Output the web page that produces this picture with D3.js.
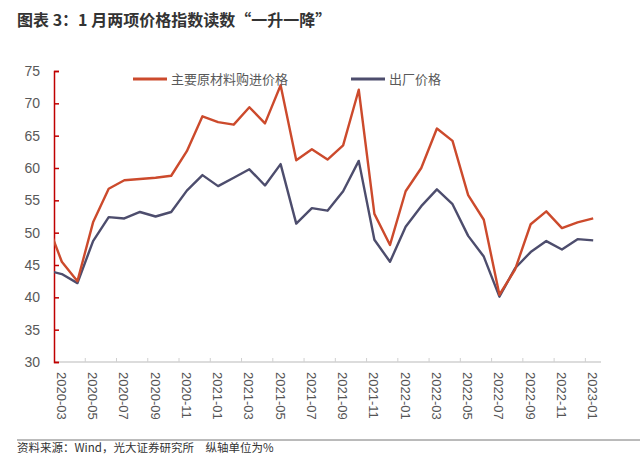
<!DOCTYPE html>
<html>
<head>
<meta charset="utf-8">
<script src="https://cdn.jsdelivr.net/npm/d3@7"></script>
<style>
  body { margin: 0; background: #fff; }
  text { font-family: "Noto Sans CJK SC", "Noto Sans", sans-serif; }
  .num { font-family: "Liberation Sans", Arial, sans-serif; }
</style>
</head>
<body>
<div id="chart"></div>
<script>
// months on the category axis (2020-02 sits just left of the axis and is clipped)
const months = ["2020-02","2020-03","2020-04","2020-05","2020-06","2020-07","2020-08","2020-09","2020-10","2020-11","2020-12",
  "2021-01","2021-02","2021-03","2021-04","2021-05","2021-06","2021-07","2021-08","2021-09","2021-10","2021-11","2021-12",
  "2022-01","2022-02","2022-03","2022-04","2022-05","2022-06","2022-07","2022-08","2022-09","2022-10","2022-11","2022-12",
  "2023-01"];
const rawPrice = [51.9,45.5,42.5,51.6,56.8,58.1,58.3,58.5,58.8,62.6,68.0,
  67.1,66.7,69.4,66.9,72.8,61.2,62.9,61.3,63.5,72.1,52.9,48.1,
  56.4,60.0,66.1,64.2,55.8,52.0,40.4,44.3,51.3,53.3,50.7,51.6,
  52.2];
const outPrice = [44.2,43.6,42.2,48.7,52.4,52.2,53.2,52.5,53.2,56.5,58.9,
  57.2,58.5,59.8,57.3,60.6,51.4,53.8,53.4,56.4,61.1,48.9,45.5,
  50.9,54.1,56.7,54.4,49.5,46.3,40.1,44.5,47.0,48.7,47.4,49.0,
  48.8];
const seriesNames = ["主要原材料购进价格", "出厂价格"];
const yTicks = [30,35,40,45,50,55,60,65,70,75];

const W = 640, H = 457;
const margin = {top: 71, right: 39, bottom: 95, left: 54};
const width = W - margin.left - margin.right,
  height = H - margin.top - margin.bottom;

const svg = d3.select("#chart").append("svg")
  .attr("width", W).attr("height", H);

// title
svg.append("text").attr("x", 17).attr("y", 26)
  .attr("font-size", 16).attr("font-weight", "bold").attr("fill", "#333")
  .text("图表 3：1 月两项价格指数读数“一升一降”");

const g = svg.append("g")
  .attr("transform", "translate(" + margin.left + "," + margin.top + ")");

const axisMonths = months.slice(1);
const x = d3.scaleBand().domain(axisMonths).range([0, width]);
const xPos = m => m === months[0] ? -x.bandwidth() / 2 : x(m) + x.bandwidth() / 2;
const y = d3.scaleLinear().domain([30, 75]).range([height, 0]);

// clip path for the plot area
g.append("clipPath").attr("id", "clip")
  .append("rect").attr("x", 0).attr("y", -20).attr("width", width).attr("height", height + 20);

// x axis
g.append("line").attr("x1", 0).attr("x2", width).attr("y1", height).attr("y2", height)
  .attr("stroke", "#d0d0d0").attr("stroke-width", 1.5);
axisMonths.forEach((m, i) => {
  if (i % 2 === 0 && i > 0) {
    g.append("line").attr("x1", x(m)).attr("x2", x(m))
      .attr("y1", height - 4).attr("y2", height)
      .attr("stroke", "#d0d0d0");
  }
  if (i % 2 === 0) {
    const cx = x(m) + x.bandwidth() / 2;
    g.append("text").attr("class", "num")
      .attr("transform", "translate(" + (cx - 5) + "," + (height + 10) + ") rotate(90)")
      .attr("font-size", 13).attr("fill", "#555")
      .text(m);
  }
});

// y axis
const yAxis = d3.axisRight(y).tickValues(yTicks).tickSize(5).tickFormat("");
const ya = g.append("g").call(yAxis);
ya.select(".domain").attr("stroke", "#c00000").attr("stroke-width", 1.5);
ya.selectAll(".tick line").attr("stroke", "#c00000").attr("stroke-width", 1.5);
g.selectAll(".ylab").data(yTicks).join("text")
  .attr("class", "num")
  .attr("x", -14).attr("y", d => y(d) + 5)
  .attr("text-anchor", "end").attr("font-size", 14).attr("fill", "#595959")
  .text(d => d);

// lines
const colors = ["#cc4a2c", "#4d4d6d"];
const line = d3.line().x(d => xPos(d[0])).y(d => y(d[1]));
[outPrice, rawPrice].forEach((vals, k) => {
  g.append("path")
    .datum(months.map((m, i) => [m, vals[i]]))
    .attr("clip-path", "url(#clip)")
    .attr("fill", "none")
    .attr("stroke", colors[1 - k])
    .attr("stroke-width", 2.4)
    .attr("stroke-linejoin", "round")
    .attr("d", line);
});

// legend
const legendX = [79, 297];
seriesNames.forEach((s, i) => {
  g.append("line").attr("x1", legendX[i]).attr("x2", legendX[i] + 34)
    .attr("y1", 8).attr("y2", 8)
    .attr("stroke", colors[i]).attr("stroke-width", 3);
  g.append("text").attr("x", legendX[i] + 38).attr("y", 13)
    .attr("font-size", 13).attr("fill", "#595959")
    .text(s);
});

// footer
svg.append("line").attr("x1", 17).attr("x2", W).attr("y1", 440).attr("y2", 440)
  .attr("stroke", "#777").attr("stroke-width", 1);
svg.append("text").attr("x", 17).attr("y", 452)
  .attr("font-size", 11.5).attr("fill", "#333")
  .text("资料来源：Wind，光大证券研究所　纵轴单位为%");
</script>
</body>
</html>
